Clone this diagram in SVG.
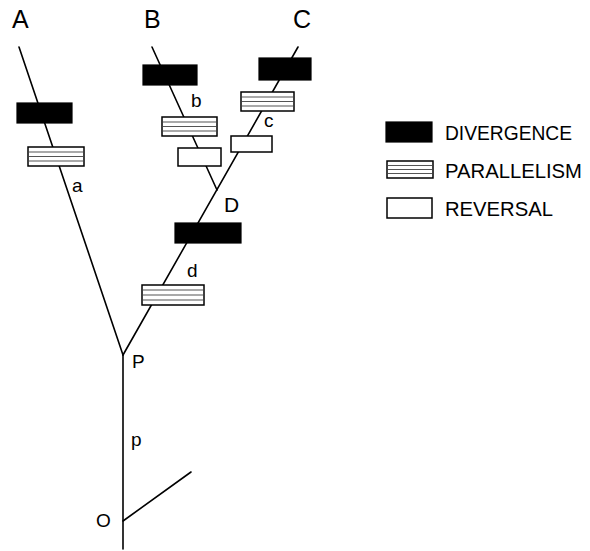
<svg xmlns="http://www.w3.org/2000/svg" width="590" height="551" viewBox="0 0 590 551">
<defs>
<style>
.br{stroke:#000;stroke-width:1.6;fill:none;stroke-linecap:round}
.div{fill:#000;stroke:#000;stroke-width:1.2}
.par{fill:#fff;stroke:#000;stroke-width:1.5}
.st{stroke:#555;stroke-width:1.1}
.rev{fill:#fff;stroke:#000;stroke-width:1.5}
.t{font-family:"Liberation Sans",Arial,sans-serif;fill:#000}
.big{font-size:25px}
.mid{font-size:21px}
.sm{font-size:19px}
.leg{font-size:21px}
</style>
</defs>
<rect width="590" height="551" fill="#fff"/>
<g id="connectors">
<line class="br" x1="123" y1="549" x2="123" y2="355"/>
<line class="br" x1="123" y1="521" x2="191" y2="472"/>
<line class="br" x1="123" y1="355" x2="19" y2="47"/>
<line class="br" x1="123" y1="355" x2="298" y2="47"/>
<line class="br" x1="217" y1="190" x2="152" y2="47"/>
</g>
<g id="nodeA">
<rect class="div" x="17" y="103" width="55" height="20"/>
<rect class="par" x="28" y="147" width="56" height="19"/>
<line class="st" x1="29" y1="152" x2="83" y2="152"/>
<line class="st" x1="29" y1="156.5" x2="83" y2="156.5"/>
<line class="st" x1="29" y1="161" x2="83" y2="161"/>
<text class="t big" x="12" y="28">A</text>
<text class="t sm" x="72" y="192">a</text>
</g>
<g id="nodeB">
<rect class="div" x="143" y="65" width="54" height="20"/>
<rect class="par" x="162" y="117" width="55" height="19"/>
<line class="st" x1="163" y1="122" x2="216" y2="122"/>
<line class="st" x1="163" y1="126.5" x2="216" y2="126.5"/>
<line class="st" x1="163" y1="131" x2="216" y2="131"/>
<rect class="rev" x="178" y="148" width="43" height="18"/>
<text class="t big" x="144" y="28">B</text>
<text class="t sm" x="191" y="107">b</text>
</g>
<g id="nodeC">
<rect class="div" x="259" y="58" width="52" height="22"/>
<rect class="par" x="241" y="92" width="53" height="19"/>
<line class="st" x1="242" y1="97" x2="293" y2="97"/>
<line class="st" x1="242" y1="101.5" x2="293" y2="101.5"/>
<line class="st" x1="242" y1="106" x2="293" y2="106"/>
<rect class="rev" x="231" y="136" width="41" height="16"/>
<text class="t big" x="293" y="28">C</text>
<text class="t sm" x="264" y="127">c</text>
</g>
<g id="nodeD">
<rect class="div" x="175" y="223" width="66" height="20"/>
<rect class="par" x="142" y="285" width="62" height="20"/>
<line class="st" x1="143" y1="290" x2="203" y2="290"/>
<line class="st" x1="143" y1="295" x2="203" y2="295"/>
<line class="st" x1="143" y1="300" x2="203" y2="300"/>
<text class="t mid" x="224" y="212">D</text>
<text class="t sm" x="187" y="277">d</text>
</g>
<g id="nodeP">
<text class="t sm" x="132" y="368">P</text>
<text class="t sm" x="131" y="446">p</text>
</g>
<g id="nodeO">
<text class="t sm" x="96" y="527">O</text>
</g>
<g id="legend">
<rect class="div" x="386" y="122" width="46" height="20"/>
<text class="t leg" x="445" y="140" textLength="127" lengthAdjust="spacingAndGlyphs">DIVERGENCE</text>
<rect class="par" x="387" y="161" width="46" height="17"/>
<line class="st" x1="388" y1="165.5" x2="432" y2="165.5"/>
<line class="st" x1="388" y1="169.5" x2="432" y2="169.5"/>
<line class="st" x1="388" y1="173.5" x2="432" y2="173.5"/>
<text class="t leg" x="445" y="178" textLength="137" lengthAdjust="spacingAndGlyphs">PARALLELISM</text>
<rect class="rev" x="387" y="198" width="45" height="20"/>
<text class="t leg" x="445" y="216" textLength="108" lengthAdjust="spacingAndGlyphs">REVERSAL</text>
</g>
</svg>
